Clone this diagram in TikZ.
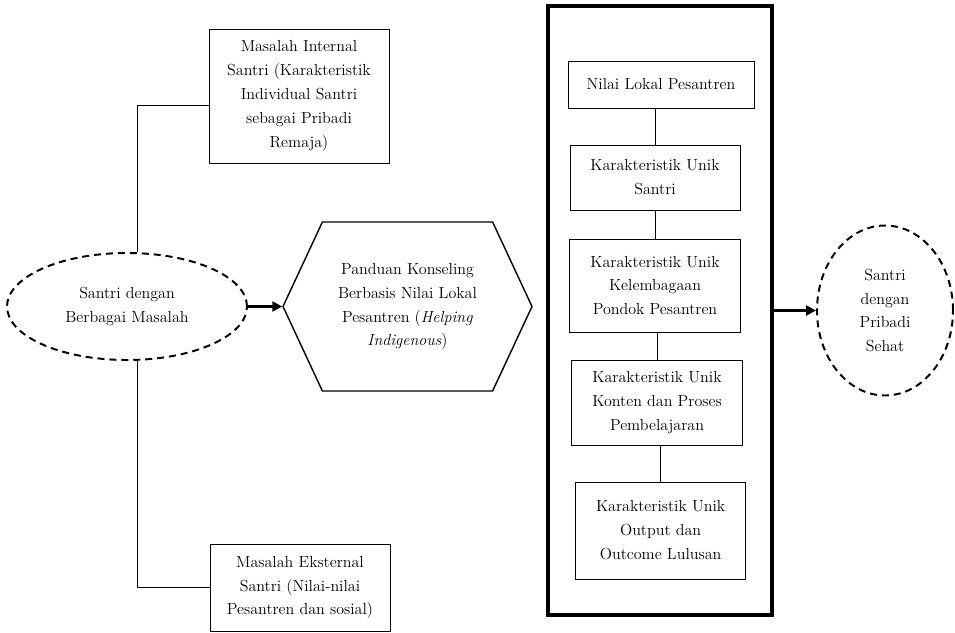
\documentclass[tikz,border=0pt]{standalone}
\usepackage{tikz}
\usetikzlibrary{shapes,arrows.meta,positioning}

\tikzset{
  box/.style={draw, line width=0.6pt, align=center, inner sep=0pt},
  dashell/.style={draw, ellipse, line width=1.4pt, dash pattern=on 5pt off 3.5pt, align=center, inner sep=0pt},
  hexa/.style={draw, signal, signal from=nowhere, signal to=east and west, signal pointer angle=130,
    line width=1pt, align=center, inner sep=0pt},
  frame/.style={draw, line width=2.3pt, inner sep=0pt},
  link/.style={line width=0.6pt},
  flow/.style={-{Triangle[length=7pt,width=7pt]}, line width=2pt}
}

\begin{document}
\begin{tikzpicture}[node distance=3cm,on grid,font=\fontsize{11.4}{17}\selectfont]
  \useasboundingbox (0,0) rectangle (23.875,-15.825);

  \node[dashell,minimum width=6cm,minimum height=2.675cm] (ell) at (3.175,-7.6625)
    {Santri dengan\\Berbagai Masalah};
  \node[box,minimum width=4.5cm,minimum height=3.35cm] (mint) [above right=5.2625cm and 4.3cm of ell]
    {Masalah Internal\\Santri (Karakteristik\\Individual Santri\\sebagai Pribadi\\Remaja)};
  \node[box,minimum width=4.5cm,minimum height=2.175cm] (mext) [below right=7.025cm and 4.325cm of ell]
    {Masalah Eksternal\\Santri (Nilai-nilai\\Pesantren dan sosial)};
  \node[hexa,minimum width=6.225cm,minimum height=4.225cm] (hex) [right=7.0125cm of ell]
    {Panduan Konseling\\Berbasis Nilai Lokal\\Pesantren (\textit{Helping}\\\textit{Indigenous})};

  % kotak besar
  \node[frame,minimum width=5.6cm,minimum height=15.225cm] (frm) [below right=0.1cm and 6.3125cm of hex] {};
  \node[box,minimum width=4.65cm,minimum height=1.175cm] (b1) at (16.525,-2.1125)
    {Nilai Lokal Pesantren};
  \node[box,minimum width=4.25cm,minimum height=1.625cm] (b2) [below=2.325cm of b1,xshift=-0.15cm]
    {Karakteristik Unik\\Santri};
  \node[box,minimum width=4.275cm,minimum height=2.325cm] (b3) [below=2.7cm of b2]
    {Karakteristik Unik\\Kelembagaan\\Pondok Pesantren};
  \node[box,minimum width=4.275cm,minimum height=2.125cm] (b4) [below=2.925cm of b3,xshift=0.05cm]
    {Karakteristik Unik\\Konten dan Proses\\Pembelajaran};
  \node[box,minimum width=4.25cm,minimum height=2.425cm] (b5) [below=3.2cm of b4,xshift=0.09cm]
    {Karakteristik Unik\\Output dan\\Outcome Lulusan};

  \node[dashell,minimum width=3.4cm,minimum height=4.25cm] (sehat) [right=5.625cm of frm]
    {Santri\\dengan\\Pribadi\\Sehat};

  \draw[link] ([xshift=0.25cm]ell.north) |- ([yshift=-0.225cm]mint.west);
  \draw[link] ([xshift=0.25cm]ell.south) |- (mext.west);
  \draw[flow] (ell.east) -- (hex.west);

  \draw[link] (b1.south -| b2.north) -- (b2.north);
  \draw[link] (b2.south -| b3.north) -- (b3.north);
  \draw[link] (b3.south -| b4.north) -- (b4.north);
  \draw[link] (b4.south -| b5.north) -- (b5.north);

  \draw[flow] (frm.east) -- (sehat.west);
\end{tikzpicture}
\end{document}
